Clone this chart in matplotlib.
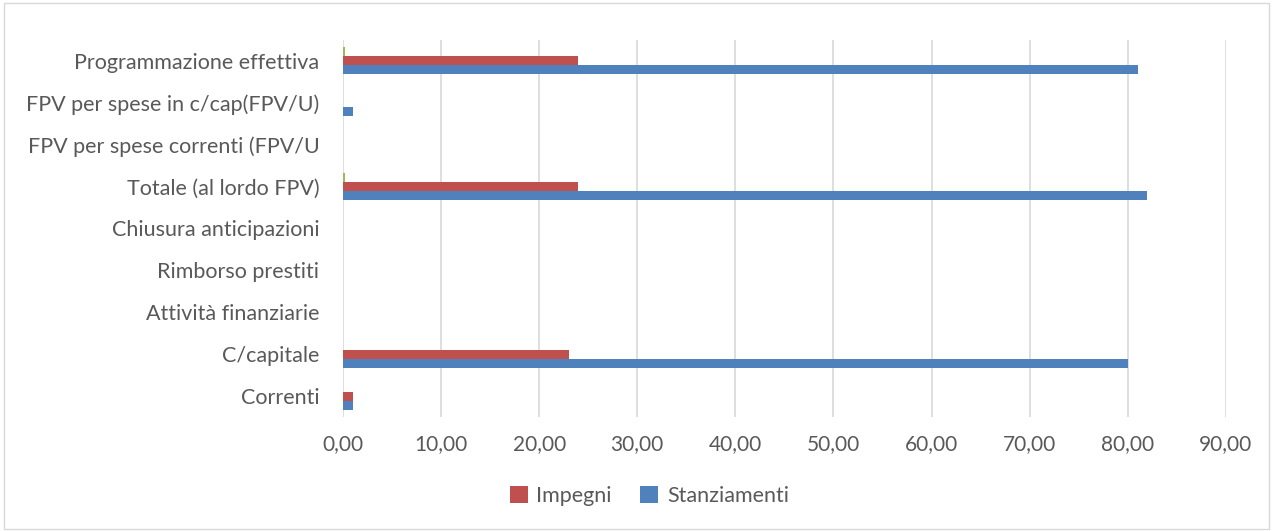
import numpy as np
from matplotlib import pyplot as plt
from matplotlib.ticker import FuncFormatter

# categorie dal basso verso l'alto
categorie = ['Correnti', 'C/capitale', 'Attività finanziarie', 'Rimborso prestiti',
             'Chiusura anticipazioni', 'Totale (al lordo FPV)',
             'FPV per spese correnti (FPV/U', 'FPV per spese in c/cap(FPV/U)',
             'Programmazione effettiva']
stanziamenti = [1.0, 80.0, 0, 0, 0, 82.0, 0, 1.0, 81.0]
impegni = [1.0, 23.0, 0, 0, 0, 24.0, 0, 0, 24.0]
terza_serie = [0, 0, 0, 0, 0, 0.2, 0, 0, 0.2]
x_ticks = np.arange(0, 91, 10)

plt.rcParams['font.family'] = ['Lato', 'DejaVu Sans']

fig = plt.figure(figsize=(12.73, 5.31), dpi=100)
ax = fig.add_axes([0.2694, 0.2147, 0.6936, 0.71])

y = np.arange(len(categorie))
h = 0.215
ax.barh(y - h, stanziamenti, height=h, color='#4f81bd', label='Stanziamenti', zorder=3)
ax.barh(y, impegni, height=h, color='#c0504d', label='Impegni', zorder=3)
ax.barh(y + h, terza_serie, height=h, color='#9bbb59', zorder=3)

ax.set_xlim(0, 90)
ax.set_ylim(-0.5, len(categorie) - 0.5)
ax.set_xticks(x_ticks)
ax.xaxis.set_major_formatter(FuncFormatter(lambda v, p: f'{v:.2f}'.replace('.', ',')))
ax.set_yticks(y)
ax.set_yticklabels(categorie)
ax.grid(axis='x', color='#d9d9d9', linewidth=1.2, zorder=0)
for s in ax.spines.values():
    s.set_visible(False)
ax.tick_params(axis='y', length=0, labelsize=15.5, labelcolor='#595959', pad=17)
ax.tick_params(axis='x', length=0, labelsize=15, labelcolor='#595959', pad=12)

handles, labels = ax.get_legend_handles_labels()
fig.legend(handles[::-1], labels[::-1], loc='center', bbox_to_anchor=(0.51, 0.066),
           ncol=2, frameon=False, fontsize=15.5, labelcolor='#595959',
           handlelength=0.85, handleheight=0.85, handletextpad=0.4, columnspacing=1.3)

fig.patches.append(plt.Rectangle((0.003, 0.004), 0.994, 0.99, transform=fig.transFigure,
                                 fill=False, edgecolor='#d9d9d9', linewidth=1))

plt.savefig('out.png', dpi=100)
